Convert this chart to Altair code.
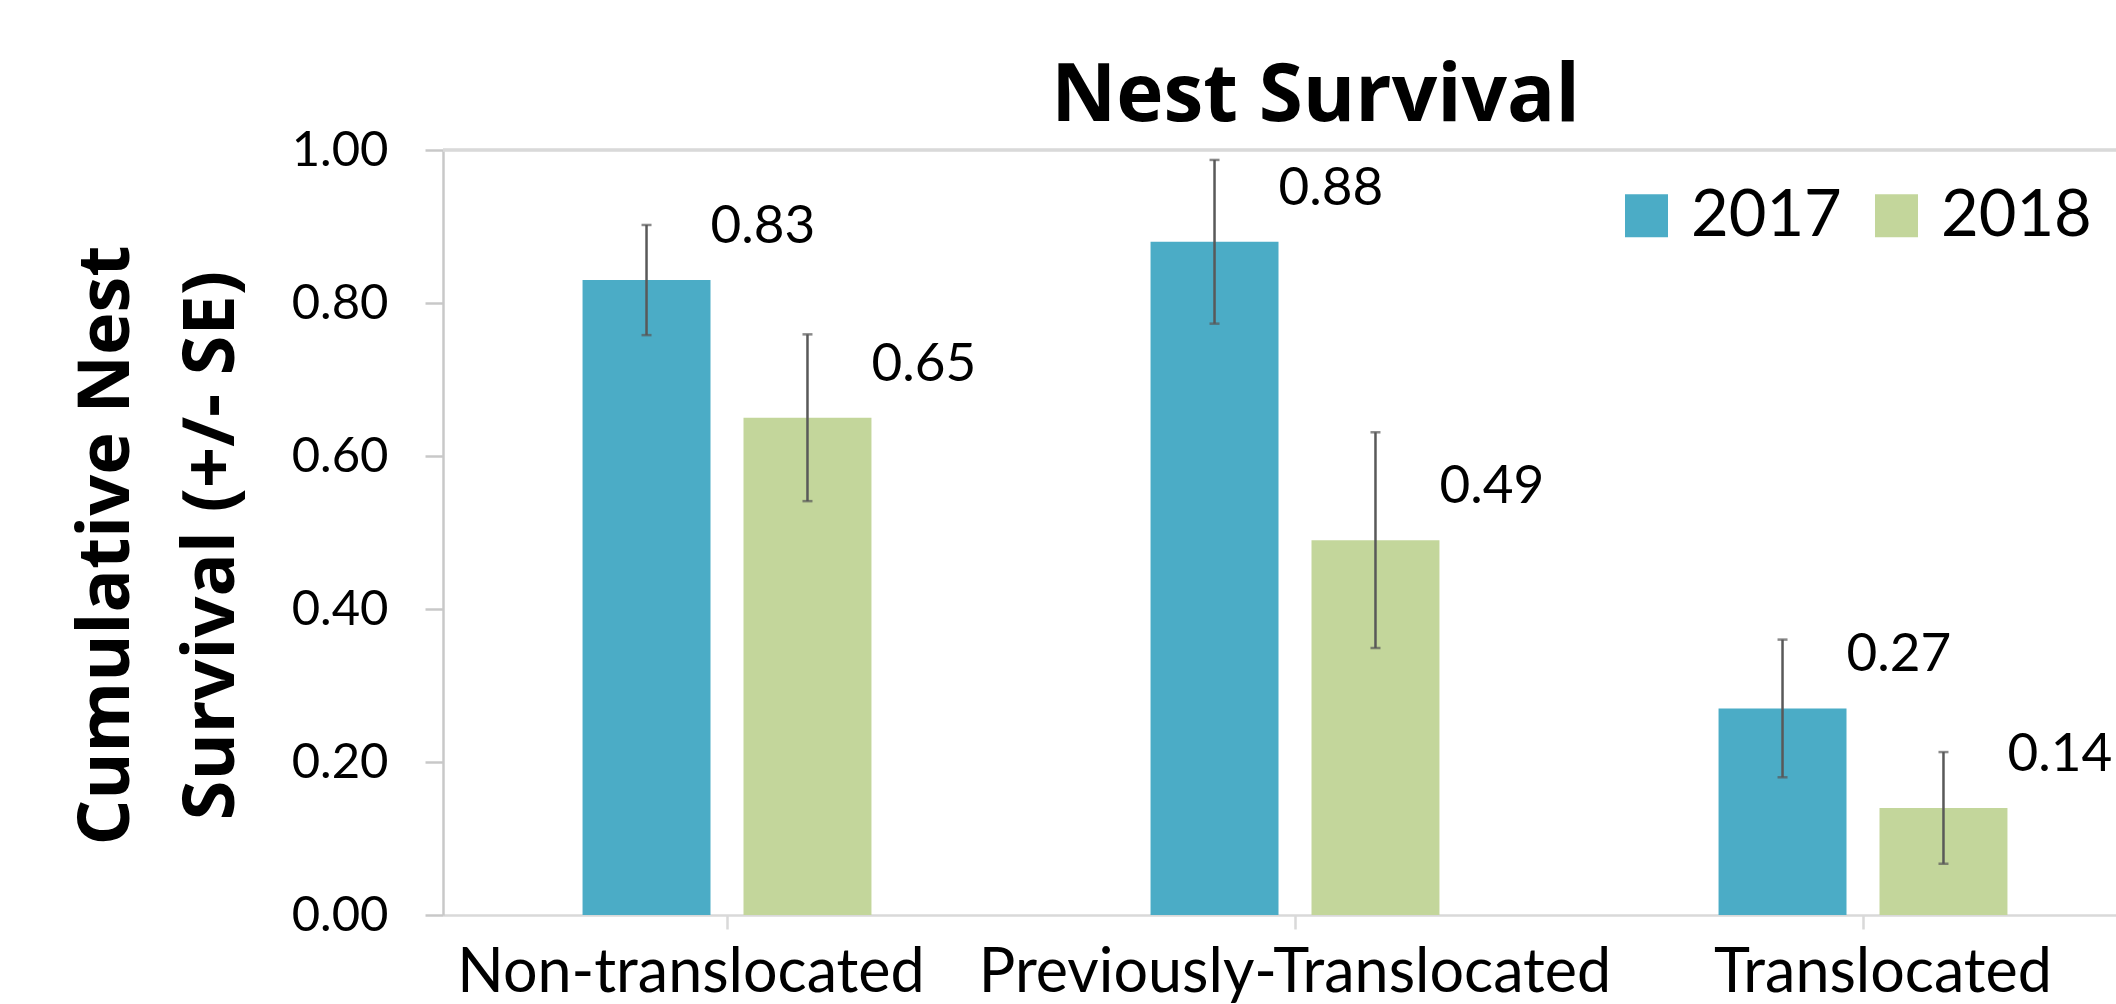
import altair as alt
import pandas as pd

categories = ["Non-translocated", "Previously-Translocated", "Translocated"]
years = ["2017", "2018"]
survival_2017 = [0.83, 0.88, 0.27]
survival_2018 = [0.65, 0.49, 0.14]
se_2017 = [0.072, 0.107, 0.090]
se_2018 = [0.109, 0.141, 0.073]
y_ticks = [0.0, 0.2, 0.4, 0.6, 0.8, 1.0]
colors = ["#4BACC6", "#C3D69B"]

rows = []
for i, c in enumerate(categories):
    for y, vals, ses in ((years[0], survival_2017, se_2017), (years[1], survival_2018, se_2018)):
        rows.append({"category": c, "year": y, "value": vals[i],
                     "lo": vals[i] - ses[i], "hi": vals[i] + ses[i]})
df = pd.DataFrame(rows)

x_label_offset = {
    "condition": [
        {"test": "datum.value === 'Non-translocated'", "value": -36},
        {"test": "datum.value === 'Translocated'", "value": 20},
    ],
    "value": 0,
}

x_scale = alt.Scale(paddingInner=0, paddingOuter=0, range=[0, 1704])
x_enc = alt.X("category:N", sort=categories, title=None, scale=x_scale,
              axis=alt.Axis(labelAngle=0, labelFont="Lato", labelFontSize=61,
                            labelColor="#000000", labelPadding=14, labelLimit=0,
                            labelOffset=x_label_offset,
                            domainColor="#d9d9d9", domainWidth=2.5,
                            tickColor="#d9d9d9", tickWidth=2.5, tickSize=14))
xo_enc = alt.XOffset("year:N", sort=years,
                     scale=alt.Scale(paddingInner=0.205, paddingOuter=0.867))
x_plain = alt.X("category:N", sort=categories, scale=x_scale)
y_scale = alt.Scale(domain=[0, 1], nice=False)

base = alt.Chart(df)

top_rule = base.mark_rule(color="#d9d9d9", strokeWidth=2.5).encode(
    y=alt.datum(1.0, scale=y_scale)
)

bars = base.mark_bar().encode(
    x=x_enc,
    xOffset=xo_enc,
    y=alt.Y("value:Q", scale=y_scale,
            title=["Cumulative Nest", "Survival (+/- SE)"],
            axis=alt.Axis(values=y_ticks, format=".2f", grid=False,
                          labelFont="Lato", labelFontSize=49, labelColor="#000000",
                          labelPadding=37, tickSize=18, tickColor="#c8c8c8",
                          tickWidth=2.5, domainColor="#c8c8c8", domainWidth=2.5,
                          titleFont="Open Sans", titleFontSize=72,
                          titleFontWeight="bold", titleColor="#000000",
                          titleAngle=-90, titleBaseline="alphabetic",
                          titleAlign="center", titleLineHeight=105,
                          titleX=-315, titleY=395)),
    color=alt.Color("year:N", sort=years,
                    scale=alt.Scale(domain=years, range=colors),
                    legend=alt.Legend(title=None, orient="none", direction="horizontal",
                                      legendX=1171, legendY=33,
                                      symbolType="square", symbolSize=1849,
                                      symbolStrokeWidth=0,
                                      labelFont="Lato", labelFontSize=65,
                                      labelColor="#000000", labelOffset=12,
                                      columnPadding=22, padding=0))
)

err = base.mark_rule(color="#595959", strokeWidth=2.5).encode(
    x=x_plain,
    xOffset=xo_enc,
    y=alt.Y("lo:Q", scale=y_scale),
    y2="hi:Q"
)

cap_lo = base.mark_tick(color="#595959", thickness=2.5, size=10, orient="horizontal").encode(
    x=x_plain,
    xOffset=xo_enc,
    y=alt.Y("lo:Q", scale=y_scale)
)
cap_hi = base.mark_tick(color="#595959", thickness=2.5, size=10, orient="horizontal").encode(
    x=x_plain,
    xOffset=xo_enc,
    y=alt.Y("hi:Q", scale=y_scale)
)

labels = base.mark_text(align="left", baseline="middle", dx=64, dy=-53,
                        font="Lato", fontSize=53, color="#000000").encode(
    x=x_plain,
    xOffset=xo_enc,
    y=alt.Y("value:Q", scale=y_scale),
    text=alt.Text("value:Q", format=".2f")
)

chart = alt.layer(top_rule, bars, err, cap_lo, cap_hi, labels).properties(
    width=1673,
    height=765,
    title=alt.TitleParams(text="Nest Survival", font="Open Sans", fontSize=80,
                          fontWeight="bold", color="#000000", anchor="middle",
                          dx=36, dy=101, offset=26, baseline="alphabetic"),
    autosize=alt.AutoSizeParams(type="none"),
    padding={"left": 443, "top": 150, "right": 0, "bottom": 89},
    background="#ffffff"
).configure_view(stroke=None)

chart.save("out.html", embed_options={"renderer": "svg", "actions": False})
